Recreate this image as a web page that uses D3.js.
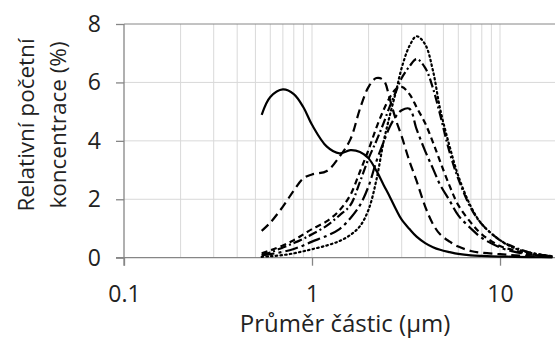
<!DOCTYPE html>
<html><head><meta charset="utf-8">
<script src="https://cdn.jsdelivr.net/npm/d3@7"></script>
<style>body{margin:0;background:#fff}svg{display:block}text{font-family:"Open Sans",sans-serif;fill:#222}</style>
</head><body><svg id="c" width="555" height="338"></svg>
<script>
const sizes = [0.54,0.6,0.7,0.8,0.9,1.0,1.2,1.4,1.6,1.8,2.0,2.2,2.4,2.6,2.8,3.0,3.3,3.6,4.0,4.4,4.8,5.4,6.0,7.0,8.0,10,12,15,19];
const solid = [4.89,5.5,5.76,5.6,5.15,4.55,3.8,3.57,3.68,3.62,3.4,2.98,2.5,2.07,1.65,1.3,0.98,0.72,0.5,0.36,0.27,0.19,0.13,0.08,0.06,0.04,0.03,0.02,0.01];
const longDash = [0.92,1.2,1.75,2.3,2.72,2.85,2.97,3.46,4.05,5.1,5.85,6.15,6.08,5.4,4.7,4.15,3.3,2.63,1.75,1.15,0.8,0.55,0.38,0.23,0.17,0.12,0.08,0.05,0.03];
const dotted = [0.03,0.05,0.09,0.15,0.22,0.29,0.42,0.57,0.78,1.08,1.65,2.66,3.95,4.9,5.7,6.5,7.25,7.58,7.3,6.4,5.1,3.8,2.8,1.75,1.15,0.6,0.32,0.15,0.05];
const dashDot = [0.1,0.18,0.35,0.5,0.65,0.8,1.1,1.45,1.8,2.6,3.4,4.0,4.6,5.2,5.7,6.15,6.55,6.8,6.5,5.8,4.9,3.6,2.7,1.7,1.15,0.6,0.35,0.15,0.05];
const mediumDash = [0.15,0.25,0.42,0.6,0.8,0.98,1.25,1.62,2.15,2.95,3.7,4.45,5.05,5.5,5.78,5.85,5.6,5.15,4.6,3.95,3.3,2.45,1.8,1.2,0.8,0.4,0.25,0.1,0.03];
const longDashDot = [0.08,0.12,0.2,0.3,0.42,0.55,0.75,0.98,1.35,1.8,2.45,3.3,3.95,4.5,4.85,5.05,5.1,4.4,3.65,3.05,2.5,1.95,1.45,1.0,0.68,0.35,0.2,0.1,0.03];
const yTicks = [0,2,4,6,8];
const xTicks = [0.1,1,10];
const xTickLabels = ["0.1","1","10"];

const series = [
  {v: solid, dash: null},
  {v: longDash, dash: "9,5"},
  {v: dotted, dash: "1.5,3.2"},
  {v: dashDot, dash: "9,3,2,3"},
  {v: mediumDash, dash: "6,4"},
  {v: longDashDot, dash: "13,4,3,4"}
];

const svg = d3.select("#c");
const x = d3.scaleLog().domain([0.1,20]).range([124,556.6]);
const y = d3.scaleLinear().domain([0,8]).range([257.7,24]);

// grid
const minor = [];
for (let d of [0.1,1,10]) for (let k=2;k<=9;k++) if (d*k<=20) minor.push(d*k);
minor.push(1,10);
svg.append("g").selectAll("line").data(minor).join("line")
  .attr("x1",d=>x(d)).attr("x2",d=>x(d)).attr("y1",y(0)).attr("y2",y(8))
  .attr("stroke","#d9d9d9").attr("stroke-width",1);
svg.append("g").selectAll("line").data([2,4,6]).join("line")
  .attr("x1",x(0.1)).attr("x2",555).attr("y1",d=>y(d)).attr("y2",d=>y(d))
  .attr("stroke","#d9d9d9").attr("stroke-width",1);
// top border
svg.append("line").attr("x1",x(0.1)).attr("x2",555).attr("y1",y(8)).attr("y2",y(8)).attr("stroke","#868686").attr("stroke-width",1);

// axes
const ya = svg.append("g").attr("transform",`translate(${x(0.1)},0)`)
  .call(d3.axisLeft(y).tickValues(yTicks).tickSize(8).tickPadding(15).tickFormat(d3.format("d")));
const xa = svg.append("g").attr("transform",`translate(0,${y(0)})`)
  .call(d3.axisBottom(x).tickValues(xTicks).tickSize(8).tickPadding(20).tickFormat((d,i)=>xTickLabels[i]));
for (const a of [ya,xa]) {
  a.select(".domain").attr("stroke","#868686").attr("stroke-width",1.3);
  a.selectAll(".tick line").attr("stroke","#868686").attr("stroke-width",1.3);
  a.selectAll("text").style("font-size","23px").attr("fill","#222");
}
ya.select(".domain").attr("d",`M0,${y(8)}V${y(0)+8}`);
xa.select(".domain").attr("d",`M${x(0.1)-8},0H555`);

// lines
const line = d3.line().x((d,i)=>x(sizes[i])).y(d=>y(d)).curve(d3.curveCatmullRom.alpha(0.5));
svg.append("g").selectAll("path").data(series).join("path")
  .attr("d",s=>line(s.v)).attr("fill","none").attr("stroke","#000")
  .attr("stroke-width",2.2).attr("stroke-dasharray",s=>s.dash)
  .attr("stroke-linecap",s=>s.dash && s.dash.startsWith("1.5")?"round":"butt");

// titles
svg.append("text").attr("x",345).attr("y",332).attr("text-anchor","middle").style("font-size","24px").text("Průměr částic (µm)");
const yt = svg.append("text").attr("transform","translate(34,125) rotate(-90)").attr("text-anchor","middle").style("font-size","22.5px");
yt.append("tspan").attr("x",0).attr("dy",0).text("Relativní početní");
yt.append("tspan").attr("x",0).attr("dy",32).text("koncentrace (%)");
</script></body></html>
